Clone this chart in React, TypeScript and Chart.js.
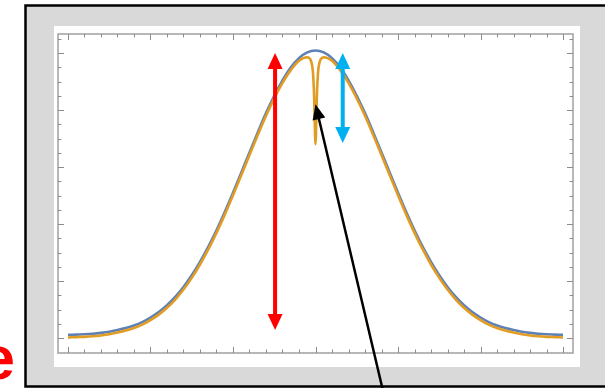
import React, { useEffect, useRef } from 'react';
import { Chart, registerables } from 'chart.js';
Chart.register(...registerables);

// ---- data ----
const blueX = [
  -3.0, -2.9, -2.8, -2.7, -2.6, -2.5, -2.4, -2.3, -2.2, -2.1, -2.0, -1.9, -1.8, -1.7, -1.6, -1.5,
  -1.4, -1.3, -1.2, -1.1, -1.0, -0.9, -0.8, -0.7, -0.6, -0.5, -0.4, -0.3, -0.2, -0.1, 0.0,
  0.1, 0.2, 0.3, 0.4, 0.5, 0.6, 0.7, 0.8, 0.9, 1.0, 1.1, 1.2, 1.3, 1.4, 1.5, 1.6, 1.7, 1.8,
  1.9, 2.0, 2.1, 2.2, 2.3, 2.4, 2.5, 2.6, 2.7, 2.8, 2.9, 3.0,
];
const blueY = [
  0.011, 0.012, 0.013, 0.015, 0.018, 0.022, 0.028, 0.035, 0.044, 0.056, 0.072, 0.091, 0.115, 0.144, 0.179, 0.22,
  0.267, 0.32, 0.378, 0.442, 0.51, 0.58, 0.651, 0.721, 0.789, 0.85, 0.904, 0.949, 0.982, 1.002, 1.009,
  1.002, 0.982, 0.949, 0.904, 0.85, 0.789, 0.721, 0.651, 0.58, 0.51, 0.442, 0.378, 0.32, 0.267, 0.22, 0.179, 0.144, 0.115,
  0.091, 0.072, 0.056, 0.044, 0.035, 0.028, 0.022, 0.018, 0.015, 0.013, 0.012, 0.011,
];
const orangeX = [
  -3.0, -2.9, -2.8, -2.7, -2.6, -2.5, -2.4, -2.3, -2.2, -2.1, -2.0, -1.9, -1.8, -1.7, -1.6, -1.5,
  -1.4, -1.3, -1.2, -1.1, -1.0, -0.9, -0.8, -0.7, -0.6, -0.5, -0.4, -0.3, -0.2, -0.1,
  -0.08, -0.06, -0.04, -0.03, -0.02, -0.015, -0.01, -0.005, 0.0, 0.005, 0.01, 0.015, 0.02, 0.03, 0.04, 0.06, 0.08,
  0.1, 0.2, 0.3, 0.4, 0.5, 0.6, 0.7, 0.8, 0.9, 1.0, 1.1, 1.2, 1.3, 1.4, 1.5, 1.6, 1.7, 1.8,
  1.9, 2.0, 2.1, 2.2, 2.3, 2.4, 2.5, 2.6, 2.7, 2.8, 2.9, 3.0,
];
const orangeY = [
  0.002, 0.003, 0.004, 0.006, 0.009, 0.013, 0.019, 0.026, 0.035, 0.047, 0.063, 0.082, 0.106, 0.135, 0.17, 0.211,
  0.258, 0.311, 0.369, 0.433, 0.501, 0.571, 0.642, 0.712, 0.78, 0.841, 0.895, 0.94, 0.973, 0.985,
  0.983, 0.976, 0.955, 0.929, 0.875, 0.83, 0.77, 0.709, 0.68, 0.709, 0.77, 0.83, 0.875, 0.929, 0.955, 0.976, 0.983,
  0.985, 0.973, 0.94, 0.895, 0.841, 0.78, 0.712, 0.642, 0.571, 0.501, 0.433, 0.369, 0.311, 0.258, 0.211, 0.17, 0.135, 0.106,
  0.082, 0.063, 0.047, 0.035, 0.026, 0.019, 0.013, 0.009, 0.006, 0.004, 0.003, 0.002,
];

const xMajorTicks = [-3, -2, -1, 0, 1, 2, 3];
const xMinorTicks = [
  -2.8, -2.6, -2.4, -2.2, -1.8, -1.6, -1.4, -1.2, -0.8, -0.6, -0.4, -0.2,
  0.2, 0.4, 0.6, 0.8, 1.2, 1.4, 1.6, 1.8, 2.2, 2.4, 2.6, 2.8,
];
const yMajorTicks = [0, 0.2, 0.4, 0.6, 0.8, 1.0];
const yMinorTicks = [
  0.05, 0.1, 0.15, 0.25, 0.3, 0.35, 0.45, 0.5, 0.55, 0.65, 0.7, 0.75, 0.85, 0.9, 0.95, 1.05,
];

// annotation arrows (data coordinates)
const redArrow = { x: -0.49, yTop: 1.0, yBottom: 0.028 };
const cyanArrow = { x: 0.33, yTop: 1.0, yBottom: 0.684 };
const blackArrow = { fromX: 0.83, fromY: -0.2, toX: 0.0, toY: 0.82 };
const sideLabel = 'e';

function drawHead(ctx: CanvasRenderingContext2D, tx: number, ty: number, ang: number, len: number, w: number) {
  ctx.beginPath();
  ctx.moveTo(tx, ty);
  ctx.lineTo(tx - len * Math.cos(ang) + (w / 2) * Math.sin(ang), ty - len * Math.sin(ang) - (w / 2) * Math.cos(ang));
  ctx.lineTo(tx - len * Math.cos(ang) - (w / 2) * Math.sin(ang), ty - len * Math.sin(ang) + (w / 2) * Math.cos(ang));
  ctx.closePath();
  ctx.fill();
}

function drawArrow(
  ctx: CanvasRenderingContext2D, x1: number, y1: number, x2: number, y2: number,
  color: string, lw: number, len: number, w: number, both: boolean,
) {
  const ang = Math.atan2(y2 - y1, x2 - x1);
  ctx.save();
  ctx.strokeStyle = color;
  ctx.fillStyle = color;
  ctx.lineWidth = lw;
  const sx = both ? x1 + (len - 2) * Math.cos(ang) : x1;
  const sy = both ? y1 + (len - 2) * Math.sin(ang) : y1;
  const ex = x2 - (len - 2) * Math.cos(ang);
  const ey = y2 - (len - 2) * Math.sin(ang);
  ctx.beginPath();
  ctx.moveTo(sx, sy);
  ctx.lineTo(ex, ey);
  ctx.stroke();
  drawHead(ctx, x2, y2, ang, len, w);
  if (both) drawHead(ctx, x1, y1, ang + Math.PI, len, w);
  ctx.restore();
}

const decorPlugin = {
  id: 'decor',
  beforeDraw(chart: any) {
    const ctx: CanvasRenderingContext2D = chart.ctx;
    const W = chart.width;
    const H = chart.height;
    ctx.save();
    ctx.fillStyle = '#ffffff';
    ctx.fillRect(0, 0, W, H);
    // grey panel with black border
    ctx.fillStyle = '#d9d9d9';
    ctx.fillRect(25, 5, W - 25 + 10, 382);
    ctx.strokeStyle = '#000000';
    ctx.lineWidth = 2.5;
    ctx.strokeRect(25.5, 5.5, W + 20, 381);
    // white plot panel
    ctx.fillStyle = '#ffffff';
    ctx.fillRect(54, 26, 526, 341);
    ctx.restore();
  },
  beforeDatasetsDraw(chart: any) {
    const ctx: CanvasRenderingContext2D = chart.ctx;
    const { left, right, top, bottom } = chart.chartArea;
    const xs = chart.scales.x;
    const ys = chart.scales.y;
    ctx.save();
    ctx.strokeStyle = '#a0a0a0';
    ctx.lineWidth = 1.5;
    ctx.strokeRect(left, top, right - left, bottom - top);
    ctx.strokeStyle = '#8c8c8c';
    ctx.lineWidth = 1;
    const xt = (v: number, l: number) => {
      const p = Math.round(xs.getPixelForValue(v)) + 0.5;
      ctx.beginPath();
      ctx.moveTo(p, bottom);
      ctx.lineTo(p, bottom - l);
      ctx.moveTo(p, top);
      ctx.lineTo(p, top + l);
      ctx.stroke();
    };
    const yt = (v: number, l: number) => {
      const p = Math.round(ys.getPixelForValue(v)) + 0.5;
      ctx.beginPath();
      ctx.moveTo(left, p);
      ctx.lineTo(left + l, p);
      ctx.moveTo(right, p);
      ctx.lineTo(right - l, p);
      ctx.stroke();
    };
    xMajorTicks.forEach((v) => xt(v, 6));
    xMinorTicks.forEach((v) => xt(v, 3.5));
    yMajorTicks.forEach((v) => yt(v, 6));
    yMinorTicks.forEach((v) => yt(v, 3.5));
    ctx.restore();
  },
  afterDraw(chart: any) {
    const ctx: CanvasRenderingContext2D = chart.ctx;
    const xs = chart.scales.x;
    const ys = chart.scales.y;
    const rx = xs.getPixelForValue(redArrow.x);
    drawArrow(ctx, rx, ys.getPixelForValue(redArrow.yBottom), rx, ys.getPixelForValue(redArrow.yTop), '#ff0000', 4, 16, 15, true);
    const cx = xs.getPixelForValue(cyanArrow.x);
    drawArrow(ctx, cx, ys.getPixelForValue(cyanArrow.yBottom), cx, ys.getPixelForValue(cyanArrow.yTop), '#00b0f0', 4, 16, 15, true);
    drawArrow(
      ctx,
      xs.getPixelForValue(blackArrow.fromX), ys.getPixelForValue(blackArrow.fromY),
      xs.getPixelForValue(blackArrow.toX), ys.getPixelForValue(blackArrow.toY),
      '#000000', 2.5, 15, 13, false,
    );
    ctx.save();
    ctx.fillStyle = '#ff0000';
    ctx.font = 'bold 62px "Liberation Sans", Arial, sans-serif';
    ctx.textAlign = 'right';
    ctx.textBaseline = 'alphabetic';
    ctx.fillText(sideLabel, 15, 379);
    ctx.restore();
  },
};

export default function App() {
  const ref = useRef<HTMLCanvasElement>(null);
  useEffect(() => {
    if (!ref.current) return;
    const chart = new Chart(ref.current, {
      type: 'line',
      data: {
        datasets: [
          {
            label: 'orange',
            data: orangeX.map((x, i) => ({ x, y: orangeY[i] })),
            borderColor: '#E19C24',
            borderWidth: 2.6,
            pointRadius: 0,
            cubicInterpolationMode: 'monotone',
            fill: false,
          },
          {
            label: 'blue',
            data: blueX.map((x, i) => ({ x, y: blueY[i] })),
            borderColor: '#5E81B5',
            borderWidth: 2.6,
            pointRadius: 0,
            cubicInterpolationMode: 'monotone',
            fill: false,
          },
        ],
      },
      options: {
        responsive: false,
        animation: false,
        devicePixelRatio: 1,
        layout: { padding: { left: 58, top: 34, right: 32, bottom: 35 } },
        scales: {
          x: { type: 'linear', min: -3.121, max: 3.121, display: false },
          y: { type: 'linear', min: -0.0526, max: 1.0667, display: false },
        },
        plugins: { legend: { display: false }, tooltip: { enabled: false } },
        events: [],
      },
      plugins: [decorPlugin],
    } as any);
    return () => chart.destroy();
  }, []);
  return (
    <div style={{ position: 'fixed', left: 0, top: 0, width: 605, height: 388 }}>
      <canvas ref={ref} width={605} height={388} style={{ display: 'block', width: 605, height: 388 }} />
    </div>
  );
}
